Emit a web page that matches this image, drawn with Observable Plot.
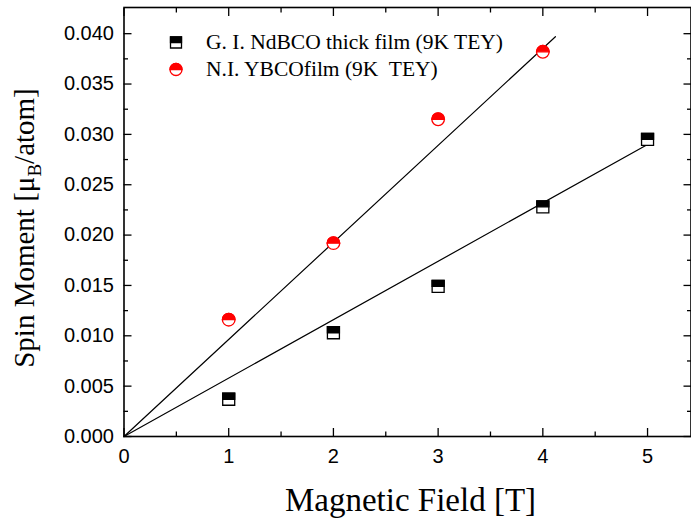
<!DOCTYPE html>
<html><head><meta charset="utf-8">
<script src="https://cdn.jsdelivr.net/npm/d3@7"></script>
<script src="https://cdn.jsdelivr.net/npm/@observablehq/plot@0.6"></script>
<style>
body{margin:0;background:#fff}
svg text{white-space:pre}
</style>
</head><body><div id="chart"></div>
<script>
// Data
const fieldNd = [1, 2, 3, 4, 5];
const momentNd = [0.0037, 0.0103, 0.0149, 0.0228, 0.0295];
const fieldY = [1, 2, 3, 4];
const momentY = [0.0116, 0.0192, 0.0315, 0.0382];
// linear fits (through origin)
const fitNdField = [0, 5.0];
const fitNdMoment = [0, 0.0290];
const fitYField = [0, 4.12];
const fitYMoment = [0, 0.0397];
// ticks
const xMajor = [0, 1, 2, 3, 4, 5];
const xMinor = [0.5, 1.5, 2.5, 3.5, 4.5];
const yMajor = [0, 0.005, 0.010, 0.015, 0.020, 0.025, 0.030, 0.035, 0.040];
const yMinor = [0.0025, 0.0075, 0.0125, 0.0175, 0.0225, 0.0275, 0.0325, 0.0375];
const legendLabels = ["G. I. NdBCO thick film (9K TEY)", "N.I. YBCOfilm (9K  TEY)"];
const xTitle = "Magnetic Field [T]";
const yTitle = "Spin Moment [\u03bcB/atom]";

const nd = fieldNd.map((x, i) => ({x, y: momentNd[i]}));
const yb = fieldY.map((x, i) => ({x, y: momentY[i]}));
const fitNd = fitNdField.map((x, i) => ({x, y: fitNdMoment[i]}));
const fitY = fitYField.map((x, i) => ({x, y: fitYMoment[i]}));

const rad = (size) => Math.sqrt(size / Math.PI);
const square = {draw(c, s) { const r = rad(s); c.moveTo(-r, -r); c.lineTo(r, -r); c.lineTo(r, r); c.lineTo(-r, r); c.closePath(); }};
const squareTop = {draw(c, s) { const r = rad(s); c.moveTo(-r, -r); c.lineTo(r, -r); c.lineTo(r, 0); c.lineTo(-r, 0); c.closePath(); }};
const circleTop = {draw(c, s) { const r = rad(s); c.moveTo(-r, 0); c.arc(0, 0, r, Math.PI, 2 * Math.PI); c.closePath(); }};

const serif = "'Liberation Serif', 'Times New Roman', serif";
const blank = () => "";

const chart = Plot.plot({
  width: 691,
  height: 519,
  marginLeft: 123.5,
  marginRight: 0.5,
  marginTop: 7,
  marginBottom: 83,
  style: {fontFamily: "'Liberation Sans', Arial, sans-serif", fontSize: "20px", color: "black", background: "white"},
  x: {domain: [0, 5.415]},
  y: {domain: [0, 0.0426]},
  marks: [
    // tick labels
    Plot.axisX(xMajor, {tickSize: 0, tickPadding: 12, tickFormat: d3.format("d"), label: null, fontSize: 20}),
    Plot.axisY(yMajor, {tickSize: 0, tickPadding: 10, tickFormat: d3.format(".3f"), label: null, fontSize: 20}),
    // inward ticks on all four sides
    Plot.axisX(xMajor, {tickSize: -8, tickFormat: blank, label: null, strokeWidth: 1.3}),
    Plot.axisX(xMinor, {tickSize: -4.5, tickFormat: blank, label: null, strokeWidth: 1.3}),
    Plot.axisX(xMajor, {anchor: "top", tickSize: -8, tickFormat: blank, label: null, strokeWidth: 1.3}),
    Plot.axisX(xMinor, {anchor: "top", tickSize: -4.5, tickFormat: blank, label: null, strokeWidth: 1.3}),
    Plot.axisY(yMajor, {tickSize: -8, tickFormat: blank, label: null, strokeWidth: 1.3}),
    Plot.axisY(yMinor, {tickSize: -4.5, tickFormat: blank, label: null, strokeWidth: 1.3}),
    Plot.axisY(yMajor, {anchor: "right", tickSize: -8, tickFormat: blank, label: null, strokeWidth: 1.3}),
    Plot.axisY(yMinor, {anchor: "right", tickSize: -4.5, tickFormat: blank, label: null, strokeWidth: 1.3}),
    Plot.frame({stroke: "black", strokeWidth: 1.6}),
    // fit lines
    Plot.line(fitY, {x: "x", y: "y", stroke: "black", strokeWidth: 1.2}),
    Plot.line(fitNd, {x: "x", y: "y", stroke: "black", strokeWidth: 1.2}),
    // data points
    Plot.dot(nd, {x: "x", y: "y", symbol: square, r: 6, fill: "white", stroke: "black", strokeWidth: 1.3}),
    Plot.dot(nd, {x: "x", y: "y", symbol: squareTop, r: 6, fill: "black", stroke: "black", strokeWidth: 1.3}),
    Plot.dot(yb, {x: "x", y: "y", r: 6.3, fill: "white", stroke: "red", strokeWidth: 1.3}),
    Plot.dot(yb, {x: "x", y: "y", symbol: circleTop, r: 6.3, fill: "red", stroke: "red", strokeWidth: 1.3}),
    // legend
    Plot.dot([0], {frameAnchor: "top-left", dx: 52, dy: 35, symbol: square, r: 5.5, fill: "white", stroke: "black", strokeWidth: 1.3}),
    Plot.dot([0], {frameAnchor: "top-left", dx: 52, dy: 35, symbol: squareTop, r: 5.5, fill: "black", stroke: "black", strokeWidth: 1.3}),
    Plot.dot([0], {frameAnchor: "top-left", dx: 52, dy: 62, r: 6, fill: "white", stroke: "red", strokeWidth: 1.3}),
    Plot.dot([0], {frameAnchor: "top-left", dx: 52, dy: 62, symbol: circleTop, r: 6, fill: "red", stroke: "red", strokeWidth: 1.3}),
    Plot.text([legendLabels[0]], {frameAnchor: "top-left", dx: 82, dy: 35, textAnchor: "start", lineAnchor: "middle", fontFamily: serif, fontSize: 21.5, fill: "black"}),
    Plot.text([legendLabels[1]], {frameAnchor: "top-left", dx: 82, dy: 62, textAnchor: "start", lineAnchor: "middle", fontFamily: serif, fontSize: 21.5, fill: "black"}),
    // axis titles
    Plot.text([xTitle], {frameAnchor: "bottom", dx: 3, dy: 74, lineAnchor: "bottom", fontFamily: serif, fontSize: 33, fill: "black"}),
    Plot.text([yTitle], {frameAnchor: "left", dx: -90, dy: 6, rotate: -90, textAnchor: "middle", lineAnchor: "bottom", fontFamily: serif, fontSize: 29, fill: "black"})
  ]
});

// subscript B in y title
d3.select(chart).selectAll("text").each(function() {
  if (this.textContent === yTitle) {
    const t = d3.select(this);
    t.text("");
    t.append("tspan").text("Spin Moment [\u03bc");
    t.append("tspan").attr("font-size", "19px").attr("dy", 7).text("B");
    t.append("tspan").attr("dy", -7).text("/atom]");
  }
});

document.getElementById("chart").appendChild(chart);
</script>
</body></html>
